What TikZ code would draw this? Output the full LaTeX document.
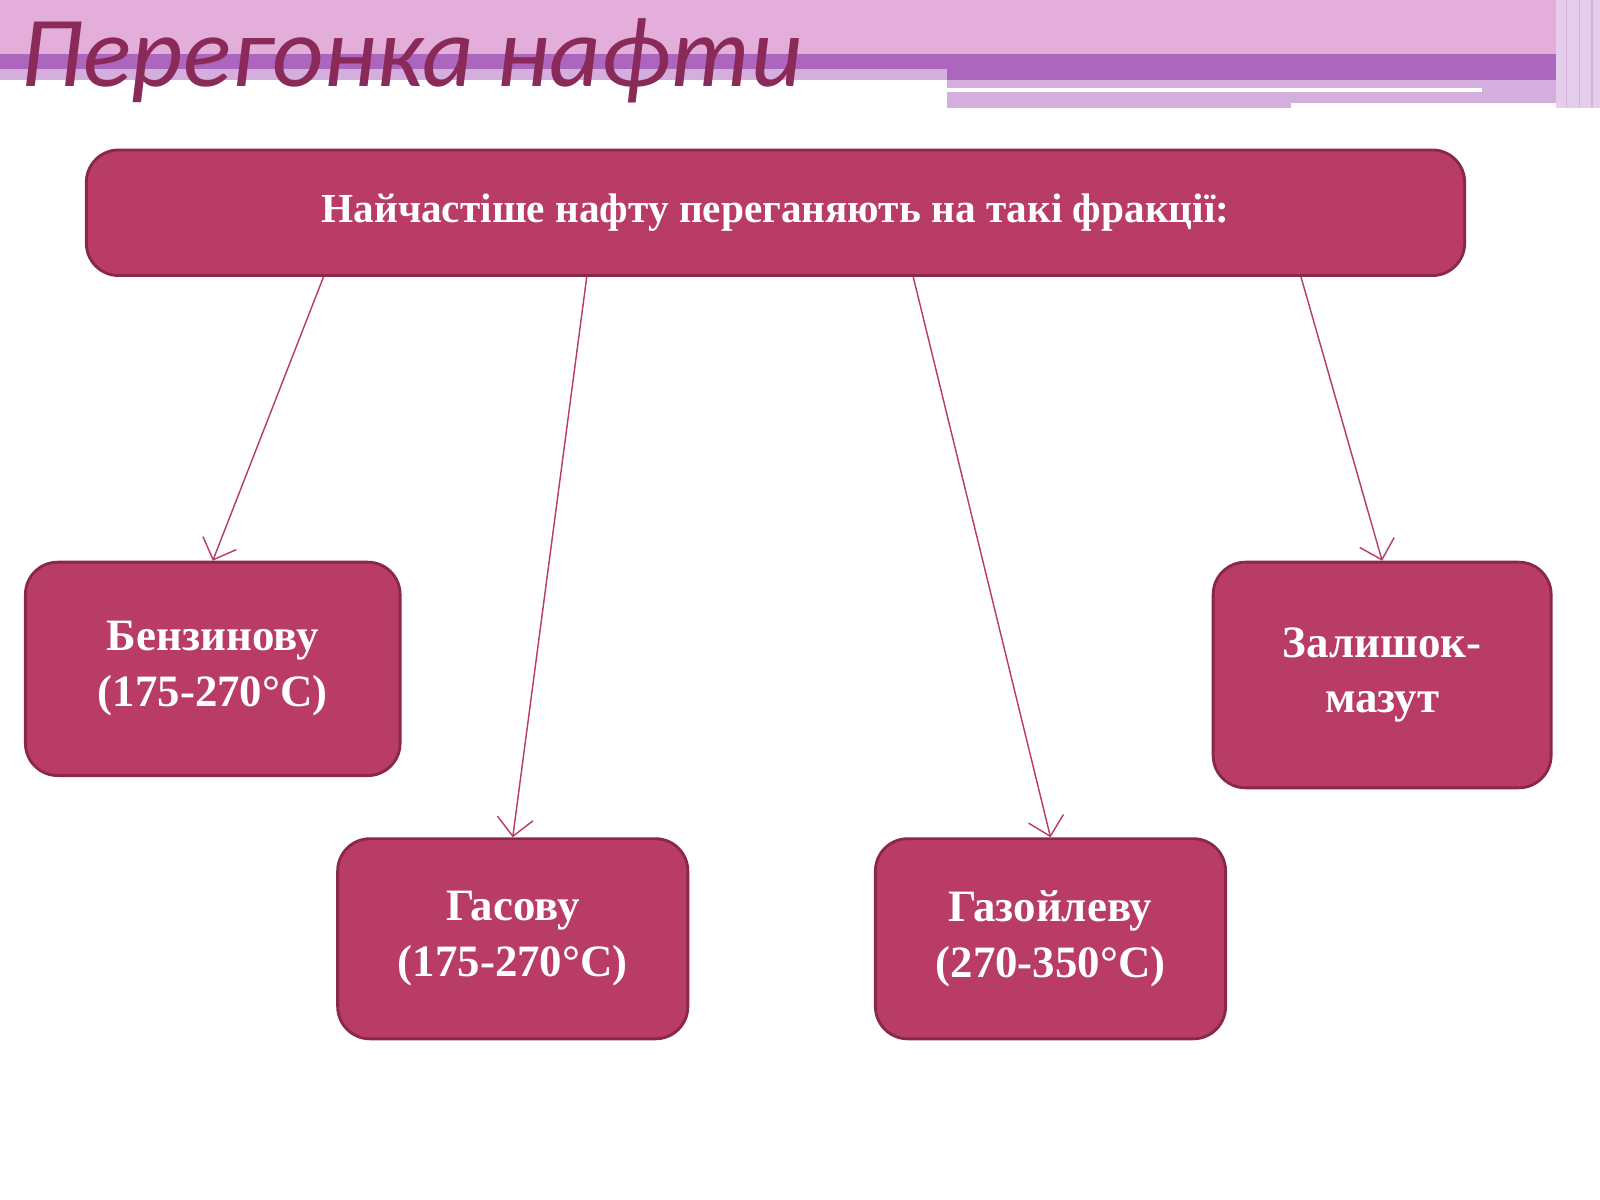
\documentclass[tikz,border=0pt]{standalone}
\usepackage{fontspec}
\setmainfont{Liberation Serif}
\newfontfamily\titlefont{Carlito}
\usetikzlibrary{arrows.meta}
\definecolor{boxfill}{HTML}{B83C66}
\definecolor{boxline}{HTML}{8B2848}
\definecolor{bandlight}{HTML}{E3AFDA}
\definecolor{banddark}{HTML}{AD66BD}
\definecolor{bandpale}{HTML}{D4AEDD}
\definecolor{titlecol}{HTML}{8A2A58}
\tikzset{
  fraction/.style={draw=boxline, thick, fill=boxfill, rounded corners=9pt,
    text=white, font=\bfseries\fontsize{12.5}{15.5}\selectfont, align=center},
  link/.style={draw=boxfill, -{Straight Barb[length=5pt]}}
}
\begin{document}
\begin{tikzpicture}[x=0.01cm, y=-0.01cm]
      \useasboundingbox (0,0) rectangle (1568,1176);
      % header bands
      \fill[bandlight] (0,0) rectangle (1525,53);
      \fill[banddark] (0,53) rectangle (1525,78);
      \fill[bandpale] (0,68) rectangle (928,78);
      \fill[bandpale] (928,78) rectangle (1525,106);
      \fill[white] (928,86) rectangle (1452,90);
      \fill[white] (1265,101) rectangle (1525,106);
      \fill[bandpale!60] (1525,0) rectangle (1568,106);
      \foreach \xx in {1535,1548,1560} \draw[banddark!50] (\xx,0) -- (\xx,106);
      \node[anchor=west, text=titlecol, font=\titlefont\itshape\fontsize{28}{32}\selectfont] (title) at (8,60) {Перегонка нафти};

      % boxes
      \node[fraction, minimum width=13.5cm, minimum height=1.23cm, font=\bfseries\fontsize{11.5}{14}\selectfont] (top) at (760,208.5) {Найчастіше нафту переганяють на такі фракції:};
      \node[fraction, minimum width=3.67cm, minimum height=2.09cm] (benz) at (208.5,655.5) {Бензинову\\(175-270°C)};
      \node[fraction, minimum width=3.43cm, minimum height=1.96cm] (gas) at (502.5,920) {Гасову\\(175-270°C)};
      \node[fraction, minimum width=3.43cm, minimum height=1.96cm] (gazoil) at (1029.5,920) {Газойлеву\\(270-350°C)};
      \node[fraction, minimum width=3.31cm, minimum height=2.21cm] (mazut) at (1354.5,661.5) {Залишок-\\мазут};

      % connectors
      \draw[link] (top.south -| 317,0) -- (benz.north);
      \draw[link] (top.south -| 575,0) -- (gas.north);
      \draw[link] (top.south -| 895,0) -- (gazoil.north);
      \draw[link] (top.south -| 1275,0) -- (mazut.north);
\end{tikzpicture}
\end{document}
